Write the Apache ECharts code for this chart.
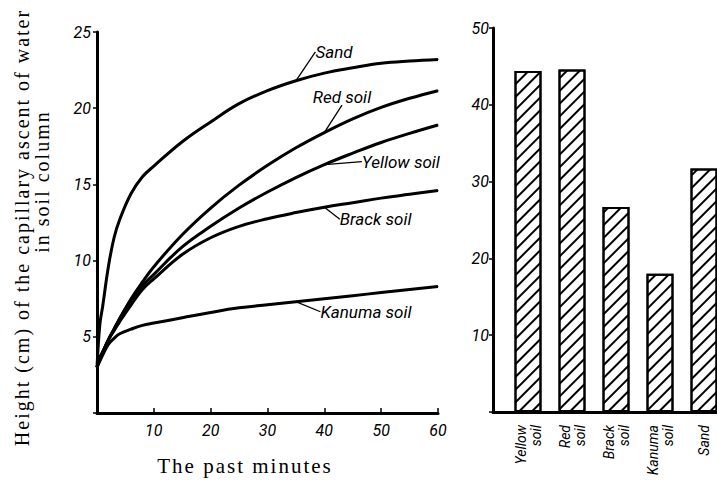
<!DOCTYPE html>
<html><head><meta charset="utf-8">
<script src="https://cdn.jsdelivr.net/npm/echarts@6/dist/echarts.min.js"></script>
<style>
html,body{margin:0;padding:0;background:#fff}
#c{width:717px;height:480px}
#c text[style*="Liberation Serif"]{letter-spacing:2px}
</style>
</head><body><div id="c"></div>
<script>
// ---- data ----
const minutes = [0, 0.5, 1, 2, 3, 4, 6, 8, 10, 15, 20, 25, 30, 35, 40, 45, 50, 55, 60];
const sand       = [3.0, 5.8, 7.0, 9.6, 11.5, 12.7, 14.4, 15.5, 16.2, 17.8, 19.1, 20.3, 21.15, 21.8, 22.3, 22.65, 22.95, 23.1, 23.2];
const redSoil    = [3.0, 3.6, 4.0, 4.8, 5.5, 6.2, 7.5, 8.6, 9.6, 11.7, 13.45, 14.95, 16.25, 17.4, 18.4, 19.3, 20.05, 20.65, 21.15];
const yellowSoil = [3.0, 3.6, 4.0, 4.8, 5.5, 6.2, 7.4, 8.35, 9.1, 10.9, 12.25, 13.45, 14.5, 15.45, 16.3, 17.05, 17.75, 18.35, 18.9];
const brackSoil  = [3.0, 3.6, 4.0, 4.8, 5.4, 6.0, 7.1, 8.1, 8.8, 10.4, 11.5, 12.25, 12.75, 13.15, 13.5, 13.8, 14.1, 14.35, 14.6];
const kanumaSoil = [3.0, 3.4, 3.8, 4.5, 4.9, 5.2, 5.5, 5.75, 5.9, 6.25, 6.6, 6.9, 7.1, 7.3, 7.5, 7.7, 7.9, 8.1, 8.3];
const curveNames = ['Sand', 'Red soil', 'Yellow soil', 'Brack soil', 'Kanuma soil'];
const curveLabelAt = [35, 40, 40, 40, 35];           // minute at which each curve's label leader attaches
const barCategories = ['Yellow\nsoil', 'Red\nsoil', 'Brack\nsoil', 'Kanuma\nsoil', 'Sand'];
const barValues = [44.4, 44.6, 26.7, 18.0, 31.7];
const xTicks = [10, 20, 30, 40, 50, 60];

// ---- styles ----
const SANS = "Roboto,'Liberation Sans',sans-serif";
const SERIF = "'Liberation Serif',serif";
const labelOffsets = [[14, -29], [-17, -36], [32, -3], [10, 12], [19, 10]];
const curveValues = [sand, redSoil, yellowSoil, brackSoil, kanumaSoil];

const lineSeries = curveNames.map((name, k) => ({
  type: 'line', name, xAxisIndex: 0, yAxisIndex: 0,
  smooth: 0.4,
  showSymbol: true, showAllSymbol: true, symbol: 'circle', symbolSize: 1,
  itemStyle: { color: '#000' },
  lineStyle: { color: '#000', width: 3 },
  silent: true,
  label: { show: false, position: 'right', formatter: name, fontFamily: SANS, fontStyle: 'italic', fontSize: 17, color: '#000' },
  labelLine: { show: true, lineStyle: { color: '#000', width: 1.3 } },
  labelLayout: { dx: labelOffsets[k][0], dy: labelOffsets[k][1] },
  data: minutes.map((t, i) => t === curveLabelAt[k]
    ? { value: [t, curveValues[k][i]], label: { show: true } }
    : [t, curveValues[k][i]])
}));

const axisLbl = { fontFamily: SANS, fontStyle: 'italic', fontSize: 16, color: '#000' };

const option = {
  animation: false,
  aria: { enabled: true, decal: { show: true } },
  backgroundColor: '#fff',
  grid: [
    { left: 97, width: 341, top: 32, bottom: 67, outerBoundsMode: 'none' },
    { left: 506, width: 220, top: 28, bottom: 68, outerBoundsMode: 'none' },
    { left: 493, width: 240, top: 28, bottom: 68, outerBoundsMode: 'none' }
  ],
  xAxis: [
    { type: 'value', gridIndex: 0, min: 0, max: 60, interval: 10,
      name: 'The past minutes', nameLocation: 'middle', nameGap: 42,
      nameTextStyle: { fontFamily: SERIF, fontSize: 21, color: '#000', padding: [0, 45, 0, 0] },
      axisLine: { lineStyle: { color: '#000', width: 3 } },
      axisTick: { inside: true, length: 5, lineStyle: { color: '#000', width: 1.5 } },
      splitLine: { show: false },
      axisLabel: Object.assign({ margin: 9, formatter: v => (xTicks.includes(v) ? String(v) : '') }, axisLbl) },
    { type: 'category', gridIndex: 1, data: barCategories,
      axisLine: { show: false }, axisTick: { show: false },
      axisLabel: Object.assign({}, axisLbl, { rotate: 90, margin: 13, lineHeight: 15, interval: 0, fontSize: 14 }) },
    { type: 'value', gridIndex: 2, min: 0, max: 1, show: true,
      axisLine: { lineStyle: { color: '#000', width: 3 } },
      axisTick: { show: false }, axisLabel: { show: false }, splitLine: { show: false } }
  ],
  yAxis: [
    { type: 'value', gridIndex: 0, min: 0, max: 25, interval: 5, position: 'left',
      name: 'Height (cm) of the capillary ascent of water', nameLocation: 'middle', nameRotate: 90, nameGap: 65,
      nameTextStyle: { fontFamily: SERIF, fontSize: 20, color: '#000', padding: [0, 10, 0, 0] },
      axisLine: { show: true, lineStyle: { color: '#000', width: 3 } },
      axisTick: { show: true, length: 4, lineStyle: { color: '#000', width: 1.5 } },
      splitLine: { show: false },
      axisLabel: Object.assign({ margin: 6, formatter: v => (v === 0 ? '' : String(v)) }, axisLbl) },
    { type: 'value', gridIndex: 1, min: 0, max: 50, interval: 10, offset: 13, position: 'left',
      axisLine: { show: true, lineStyle: { color: '#000', width: 3 } },
      axisTick: { show: true, length: 4, lineStyle: { color: '#000', width: 1.5 } },
      splitLine: { show: false },
      axisLabel: Object.assign({ margin: 4, formatter: v => (v === 0 ? '' : String(v)) }, axisLbl) },
    { type: 'value', gridIndex: 2, show: false, min: 0, max: 50 },
    { type: 'value', gridIndex: 0, min: 0, max: 25, position: 'left',
      name: 'in soil column', nameLocation: 'middle', nameRotate: 90, nameGap: 45,
      nameTextStyle: { fontFamily: SERIF, fontSize: 20, color: '#000', padding: [0, 0, 0, 82] },
      axisLine: { show: false }, axisTick: { show: false }, axisLabel: { show: false }, splitLine: { show: false } }
  ],
  series: lineSeries.concat([{
    type: 'bar', xAxisIndex: 1, yAxisIndex: 1, barWidth: 27, silent: true,
    itemStyle: { color: '#fff', borderColor: '#000', borderWidth: 2,
      decal: { symbol: 'rect', symbolSize: 1, dashArrayX: [1, 0], dashArrayY: [1.5, 6.5], rotation: -Math.PI / 4, color: '#000', backgroundColor: '#fff' } },
    data: barValues
  }])
};
echarts.init(document.getElementById('c'), null, { renderer: 'svg' }).setOption(option);
</script></body></html>
